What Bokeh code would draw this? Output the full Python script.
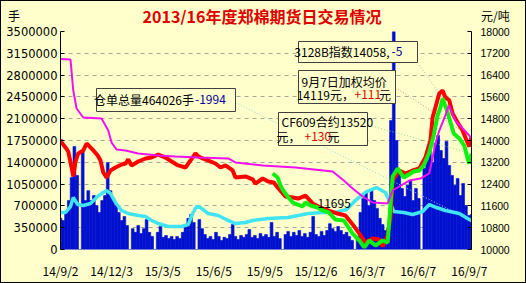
import datetime as dt
from bokeh.plotting import figure
from bokeh.layouts import column
from bokeh.models import Range1d, LinearAxis, FixedTicker, BoxAnnotation, Label, Div
from bokeh.embed import file_html
from bokeh.resources import INLINE

START = dt.date(2014, 9, 2)

def day(s):
    return (dt.date.fromisoformat(s) - START).days

# ---------------- data ----------------
title_text = "2013/16年度郑棉期货日交易情况"
left_unit = "手"
right_unit = "元/吨"
tick_dates = ["2014-09-02", "2014-12-03", "2015-03-05", "2015-06-05", "2015-09-05",
              "2015-12-06", "2016-03-07", "2016-06-07", "2016-09-07"]
tick_labels = ["14/9/2", "14/12/3", "15/3/5", "15/6/5", "15/9/5",
               "15/12/6", "16/3/7", "16/6/7", "16/9/7"]
left_ticks = [0, 350000, 700000, 1050000, 1400000, 1750000, 2100000,
              2450000, 2800000, 3150000, 3500000]
right_ticks = [10000, 10800, 11600, 12400, 13200, 14000, 14800,
               15600, 16400, 17200, 18000]

# daily volume (手), sampled every 5 calendar days from 2014-09-02
vol_day = list(range(0, 741, 5))
volume = [
    500000, 465000, 595000, 785000, 1155000, 1655000, 1190000, 0, 1590000, 785000,
    945000, 785000, 865000, 705000, 595000, 785000, 865000, 1395000, 945000, 785000,
    705000, 595000, 465000, 530000, 385000, 0, 335000, 275000, 385000, 255000,
    335000, 480000, 275000, 210000, 0, 275000, 370000, 195000, 225000, 175000,
    210000, 160000, 210000, 175000, 275000, 370000, 500000, 560000, 435000, 0,
    480000, 335000, 240000, 175000, 210000, 160000, 275000, 210000, 145000, 195000,
    175000, 240000, 400000, 210000, 160000, 225000, 195000, 240000, 320000, 195000,
    225000, 175000, 255000, 210000, 240000, 195000, 435000, 210000, 275000, 175000,
    0, 240000, 290000, 210000, 275000, 225000, 305000, 210000, 255000, 195000,
    275000, 530000, 240000, 210000, 290000, 225000, 305000, 415000, 335000, 290000,
    370000, 305000, 240000, 275000, 210000, 145000, 0, 210000, 595000, 820000,
    915000, 705000, 945000, 785000, 660000, 500000, 400000, 305000, 335000, 2070000,
    3550000, 1750000, 1270000, 980000, 850000, 1030000, 1110000, 785000, 980000, 820000,
    0, 1300000, 1430000, 1590000, 1395000, 1700000, 1830000, 1590000, 1460000, 1735000,
    1350000, 1190000, 1030000, 1140000, 865000, 1060000, 705000, 545000, 560000,
]

# 仓单总量 (手)
cyan_day = [0, 9, 18, 23, 31, 41, 54, 65, 74, 83, 90, 99, 110, 122, 140, 153, 164, 176,
            194, 218, 230, 238, 245, 252, 266, 284, 302, 315, 333, 346, 374, 410, 446,
            472, 495, 515, 531, 551, 569, 585, 594, 600, 618, 634, 652, 664, 677, 693,
            718, 736, 740]
cyan_val = [594000, 594000, 690000, 835000, 722000, 706000, 738000, 835000, 899000,
            947000, 899000, 755000, 626000, 578000, 546000, 530000, 466000, 417000,
            369000, 369000, 401000, 578000, 690000, 674000, 578000, 546000, 466000,
            417000, 433000, 466000, 498000, 514000, 578000, 594000, 594000, 642000,
            787000, 931000, 995000, 915000, 738000, 610000, 594000, 562000, 610000,
            722000, 674000, 626000, 578000, 482000, 464026]

# 3128B 指数 (元/吨)
mag_day = [0, 18, 23, 29, 41, 74, 86, 92, 101, 117, 140, 176, 207, 248, 302, 315, 364,
           423, 490, 510, 526, 544, 562, 589, 598, 607, 628, 648, 664, 670, 675, 682,
           693, 699, 711, 724, 736, 740]
mag_val = [16990, 16970, 15835, 15175, 14845, 14810, 14365, 13925, 13670, 13635, 13525,
           13450, 13415, 13375, 13340, 13195, 13085, 13010, 12860, 12530, 12240, 11945,
           11725, 11690, 12165, 12275, 12530, 12605, 12790, 13375, 13890, 14365, 14920,
           15285, 14735, 14440, 14185, 14058]

# 加权均价 (元/吨)
red_day = [0, 2, 9, 14, 20, 23, 27, 32, 41, 47, 54, 59, 67, 72, 77, 83, 90, 99, 110,
           117, 122, 128, 140, 153, 164, 176, 189, 200, 212, 225, 234, 243, 248, 256,
           266, 279, 288, 297, 310, 315, 333, 346, 351, 364, 374, 384, 391, 405, 418,
           428, 441, 454, 468, 483, 499, 513, 526, 538, 549, 562, 574, 580, 589, 594,
           598, 610, 621, 634, 646, 657, 666, 670, 675, 682, 688, 693, 700, 706, 715,
           724, 729, 736, 740]
red_val = [14035, 13925, 13745, 13595, 13010, 12680, 13230, 13525, 13635, 13890, 13745,
           13635, 13450, 13265, 12825, 12640, 12900, 13010, 13120, 13155, 13305, 13085,
           13230, 13340, 13375, 13485, 13375, 13230, 13085, 13010, 13265, 13525, 13415,
           13340, 13265, 13155, 13010, 13085, 12900, 12640, 12680, 12570, 12420, 12605,
           12495, 12460, 12275, 11945, 11910, 11870, 11980, 11690, 11540, 11430, 11320,
           11250, 10920, 10585, 10255, 10405, 10365, 10110, 10515, 11175, 12530, 12900,
           12790, 12900, 12975, 13375, 14000, 14845, 15210, 15725, 15835, 15580, 15470,
           14990, 14660, 14365, 14110, 13780, 14119]

# CF609 合约 (元/吨)
green_day = [382, 391, 396, 401, 409, 418, 427, 436, 441, 450, 463, 472, 483, 495, 510,
             526, 538, 547, 556, 567, 580, 589, 592, 598, 607, 618, 627, 636, 646, 654,
             664, 672, 679, 684, 688, 697, 708, 718, 727, 733, 736, 740]
green_val = [12790, 12640, 12350, 12165, 11945, 11725, 11650, 11580, 11725, 11615, 11540,
             11430, 11360, 11100, 11065, 10585, 10330, 10075, 10330, 10145, 10330, 10255,
             11065, 12680, 12975, 12640, 12750, 12860, 12900, 13085, 13560, 14185, 14920,
             15210, 15540, 15030, 14255, 14075, 13815, 13340, 13155, 13520]

# ---------------- layout helpers (pixel -> data, for annotations only) ----------------
X0, X1, Y0, Y1 = 60, 471, 31, 249
XMAX, YMAX, PMIN, PMAX = 740, 3500000, 10000, 18000

def dx(px):
    return (px - X0) * XMAX / (X1 - X0)

def dy(py):
    return (Y1 - py) * YMAX / (Y1 - Y0)

def dp(py):
    return PMIN + (Y1 - py) * (PMAX - PMIN) / (Y1 - Y0)

CJK = "Noto Sans CJK SC"
BG = "#FFFFCC"
HEAD = 23

p = figure(width=524, height=281 - HEAD, output_backend="svg", toolbar_location=None,
           x_range=Range1d(0, XMAX), y_range=Range1d(0, YMAX),
           min_border_left=59, min_border_right=54, min_border_top=30 - HEAD,
           min_border_bottom=33)
p.background_fill_color = BG
p.border_fill_color = BG
p.outline_line_color = None
p.extra_y_ranges = {"price": Range1d(PMIN, PMAX)}

# left axis
ya = p.yaxis[0]
ya.ticker = FixedTicker(ticks=left_ticks)
ya.major_label_overrides = {v: str(v) for v in left_ticks}
ya.major_label_text_font = "DejaVu Sans"
ya.major_label_text_font_size = "11.5px"
ya.major_label_text_color = "#000000"
ya.major_tick_in = 4
ya.major_tick_out = 0
ya.minor_tick_line_color = None
ya.major_label_standoff = 3
ya.axis_line_color = "#000000"

# right axis
ra = LinearAxis(y_range_name="price", ticker=FixedTicker(ticks=right_ticks))
ra.major_label_overrides = {v: str(v) for v in right_ticks}
ra.major_label_text_font = "Liberation Sans"
ra.major_label_text_font_size = "10.5px"
ra.major_label_text_color = "#000000"
ra.major_tick_in = 4
ra.major_tick_out = 0
ra.minor_tick_line_color = None
ra.major_label_standoff = 9
ra.axis_line_color = "#000000"
p.add_layout(ra, "right")

# bottom axis
xa = p.xaxis[0]
xa.ticker = FixedTicker(ticks=[day(s) for s in tick_dates])
xa.major_label_overrides = {day(s): l for s, l in zip(tick_dates, tick_labels)}
xa.major_label_text_font = CJK
xa.major_label_text_font_size = "12px"
xa.major_label_text_color = "#000000"
xa.major_tick_line_color = None
xa.minor_tick_line_color = None
xa.axis_line_color = None
xa.major_label_standoff = 6

p.xgrid.visible = False
p.ygrid.ticker = FixedTicker(ticks=left_ticks)
p.ygrid.grid_line_color = "#A8A898"
p.ygrid.grid_line_dash = "4 4"

# bars
p.vbar(x=vol_day, top=volume, width=5, bottom=0, fill_color="#0010D0",
       line_color="#0010D0", line_width=0.6)

# leader lines (box -> series end)
p.segment(x0=[dx(235)], y0=[dy(102)], x1=[cyan_day[-1]], y1=[cyan_val[-1]],
          line_color="#80E0E0", line_dash="1 2", line_width=1)
p.segment(x0=[dx(417)], y0=[dp(62)], x1=[mag_day[-1]], y1=[mag_val[-1]],
          line_color="#E8A0A0", line_dash="1 2", line_width=1, y_range_name="price")
p.segment(x0=[dx(395)], y0=[dp(87)], x1=[red_day[-1]], y1=[red_val[-1]],
          line_color="#E08888", line_dash="1 2", line_width=1, y_range_name="price")
p.segment(x0=[dx(366)], y0=[dp(124)], x1=[green_day[-1]], y1=[green_val[-1]],
          line_color="#90E090", line_dash="1 2", line_width=1, y_range_name="price")

# lines
p.line(cyan_day, cyan_val, line_color="#40E4F2", line_width=3.5)
p.line(red_day, red_val, line_color="#FF0000", line_width=4, y_range_name="price")
p.line(green_day, green_val, line_color="#10F010", line_width=4, y_range_name="price")
p.line(mag_day, mag_val, line_color="#F010F0", line_width=2, y_range_name="price")

# annotation boxes
def box(l, t, r, b):
    p.add_layout(BoxAnnotation(left=dx(l), right=dx(r), top=dy(t), bottom=dy(b),
                               fill_color=BG, fill_alpha=1.0,
                               line_color="#404040", line_width=1, line_alpha=1.0))

def txt(px, py, s, color="#000000", align="left", size="12px"):
    p.add_layout(Label(x=dx(px), y=dy(py), text=s, text_color=color, text_align=align,
                       text_baseline="middle", text_font=CJK, text_font_size=size))

box(96, 88, 235, 111)
txt(193.5, 99, "仓单总量464026手", align="right")
txt(194.5, 99, "-1994", color="#000099")

box(298, 41, 417, 62)
txt(389, 51, "3128B指数14058,", align="right")
txt(391, 51, "-5", color="#000099")

box(298, 70, 395, 103)
txt(301, 81, "9月7日加权均价")
txt(353.5, 94, "14119元，", align="right")
txt(354, 94, "+111", color="#DD0000")
txt(378.5, 94, "元")

box(278, 112, 367, 145)
txt(281, 121, "CF609合约13520")
txt(300, 136, "元，", align="right")
txt(304, 136, "+130", color="#DD0000")
txt(327, 136, "元")

txt(317, 203, "11695")

# header row: unit labels and title
span = "position:absolute;white-space:nowrap;line-height:1;"
header = Div(
    width=524, height=HEAD,
    text=(
        f'<div style="position:relative;width:524px;height:{HEAD}px;font-family:\'{CJK}\';">'
        f'<span style="{span}left:7px;top:9px;font-size:12px;color:#000000;">{left_unit}</span>'
        f'<span style="{span}left:0px;width:522px;text-align:center;top:7px;font-size:16px;'
        f'font-weight:bold;color:#E00000;">{title_text}</span>'
        f'<span style="{span}left:480px;top:9px;font-size:12px;color:#000000;">{right_unit}</span>'
        '</div>'
    ),
    styles={"background-color": BG, "margin": "0", "padding": "0"},
)

layout = column(header, p, spacing=0)
layout.styles = {"border": "1px solid #000000", "background-color": BG}

open("out.html", "w").write(file_html(layout, INLINE))
